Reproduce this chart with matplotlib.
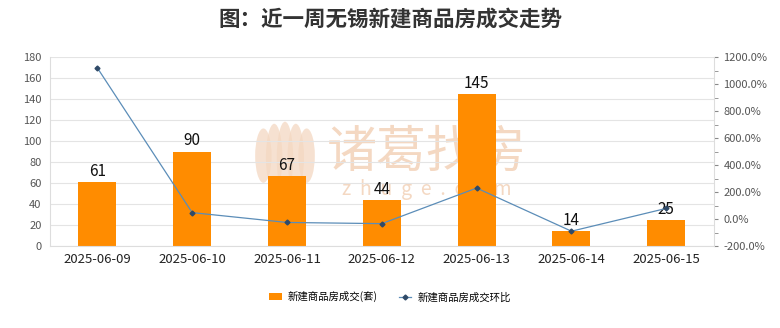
import numpy as np
import matplotlib.pyplot as plt
from matplotlib.patches import Ellipse
from matplotlib.ticker import MultipleLocator, FuncFormatter

plt.rcParams['font.family'] = ['Noto Sans CJK SC', 'DejaVu Sans']

dates = ['2025-06-09', '2025-06-10', '2025-06-11', '2025-06-12',
         '2025-06-13', '2025-06-14', '2025-06-15']
deals = [61, 90, 67, 44, 145, 14, 25]
ring_ratio = [1120.0, 47.5, -25.6, -34.3, 229.5, -90.3, 78.6]

bar_color = '#FF8C00'
line_color = '#5B8DB8'
grid_color = '#E4E4E4'
text_color = '#333333'
mark_color = '#F4D8C2'

fig = plt.figure(figsize=(7.8, 3.28), dpi=100)

# watermark logo: a fan of petals, drawn behind the chart
logo = fig.add_axes([255 / 780, 1 - 195 / 328, 60 / 780, 75 / 328], zorder=0)
logo.set_xlim(-1, 1)
logo.set_ylim(-1, 1)
logo.axis('off')
for dx, dy, w, h in [(-0.72, 0.05, 0.55, 1.45), (-0.36, 0.0, 0.55, 1.8),
                     (0.0, -0.02, 0.55, 1.95), (0.36, 0.0, 0.55, 1.8),
                     (0.72, 0.05, 0.55, 1.45)]:
    logo.add_patch(Ellipse((dx, dy), w, h, color=mark_color, alpha=0.75,
                           linewidth=0))

fig.text(427 / 780, 1 - 153 / 328, '诸葛找房', fontsize=36, color=mark_color,
         ha='center', va='center', zorder=0)
fig.text(427 / 780, 1 - 190 / 328, 'z  h  u  g  e  .  c  o  m', fontsize=14,
         color=mark_color, ha='center', va='center', zorder=0)

ax = fig.add_axes([0.064, 0.25, 0.851, 0.576], zorder=2)
x = np.arange(len(dates))

bars = ax.bar(x, deals, width=0.4, color=bar_color, zorder=2,
              label='新建商品房成交(套)')
for xi, v in zip(x, deals):
    ax.text(xi, v + 2, str(v), ha='center', va='bottom', fontsize=11,
            color='#111111', zorder=5)

ax.set_xlim(-0.5, len(dates) - 0.5)
ax.set_ylim(0, 180)
ax.yaxis.set_major_locator(MultipleLocator(20))
ax.set_xticks(x)
ax.set_xticklabels(dates, fontsize=9.5, color='#222222')
ax.tick_params(axis='y', labelsize=8, colors='#555555', length=0, pad=6)
ax.tick_params(axis='x', length=0, pad=5)
ax.grid(axis='y', color=grid_color, linewidth=0.8, zorder=0)
ax.set_axisbelow(True)
for s in ['top', 'right']:
    ax.spines[s].set_visible(False)
ax.spines['left'].set_color('#DDDDDD')
ax.spines['bottom'].set_color('#DDDDDD')
ax.patch.set_alpha(0)

ax2 = ax.twinx()
ax2.plot(x, ring_ratio, color=line_color, linewidth=0.9, marker='D',
         markersize=2.5, markerfacecolor='#2F4A68', markeredgecolor='#2F4A68',
         zorder=4, label='新建商品房成交环比')
ax2.set_ylim(-200, 1200)
ax2.yaxis.set_major_locator(MultipleLocator(200))
ax2.yaxis.set_minor_locator(MultipleLocator(100))
ax2.yaxis.set_major_formatter(FuncFormatter(lambda v, p: f'{v:.1f}%'))
ax2.tick_params(axis='y', which='both', direction='out', length=3,
                color='#888888', labelsize=8, labelcolor='#555555', pad=4)
for s in ['top', 'left', 'bottom']:
    ax2.spines[s].set_visible(False)
ax2.spines['right'].set_color('#DDDDDD')

fig.suptitle('图：近一周无锡新建商品房成交走势', y=0.975, fontsize=15.5,
             fontweight='bold', color=text_color)

handles = [bars, ax2.get_lines()[0]]
fig.legend(handles, [h.get_label() for h in handles], loc='center',
           bbox_to_anchor=(0.5, 0.095), ncol=2, frameon=False, fontsize=7.5,
           handlelength=1.2, handletextpad=0.6, columnspacing=2.0)

fig.savefig('out.png', dpi=100)
